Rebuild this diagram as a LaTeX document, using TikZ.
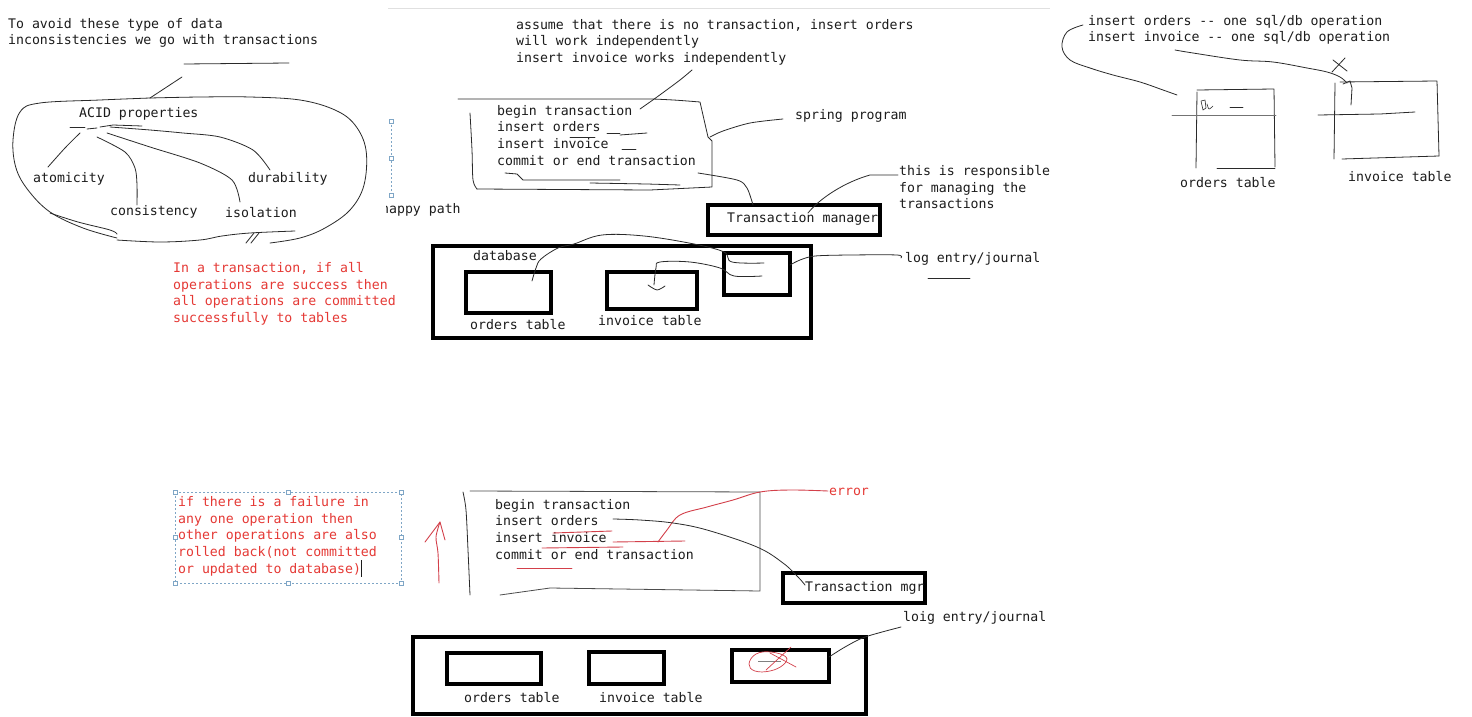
\documentclass[tikz,border=0pt]{standalone}
\usepackage{fontspec}
\newfontfamily\monoface{DejaVu Sans Mono}
\definecolor{ink}{HTML}{1C1C1C}
\definecolor{notered}{HTML}{E53935}
\definecolor{penred}{HTML}{D3404A}
\definecolor{selblue}{HTML}{7FA6C6}
\definecolor{pencil}{HTML}{2A2A2A}
\begin{document}
\begin{tikzpicture}[x=1pt,y=-1pt,
  txt/.style={font=\monoface\fontsize{13.2}{16.7}\selectfont, align=left, anchor=north west, inner sep=0pt, text=ink},
  redtxt/.style={txt, text=notered},
  hand/.style={draw=pencil, line width=0.8pt, line cap=round, line join=round},
  redhand/.style={draw=penred, line width=0.9pt, line cap=round, line join=round},
  heavybox/.style={draw=black, line width=3.5pt, anchor=north west, inner sep=0pt, outer sep=0pt},
  handle/.style={draw=selblue, fill=white, line width=0.6pt, minimum size=4pt, inner sep=0pt},
  selection/.style={draw=selblue, line width=0.8pt, dash pattern=on 2pt off 2pt}
]
\useasboundingbox[fill=white] (0,0) rectangle (1472,717);
\draw[black!12, line width=0.8pt] (388,8) -- (1050,8);

% ---------- ACID properties ----------
\node[txt] (intro) at (8,18) {To avoid these type of data\\inconsistencies we go with transactions};
\node[txt] (acid) at (79,107) {ACID properties};
\node[txt] (atom) at (33,172) {atomicity};
\node[txt] (cons) at (110,205) {consistency};
\node[txt] (isol) at (225,207) {isolation};
\node[txt] (dura) at (248,172) {durability};

\draw[hand] (184,64) -- (289,63);
\draw[hand] (182,77) -- (150,98);
% loop round the four properties
\draw[hand] plot[smooth, tension=0.6] coordinates {(150,98) (100,100) (40,103) (20,112) (13,140) (16,168) (28,190) (50,212) (83,228) (117,238)};
\draw[hand] plot[smooth, tension=0.6] coordinates {(50,213) (78,222) (110,230) (117,234)};
\draw[hand] plot[smooth, tension=0.6] coordinates {(117,240) (160,242) (200,240) (222,236) (250,233) (295,231)};
\draw[hand] plot[smooth, tension=0.6] coordinates {(150,98) (200,97) (250,97) (300,100) (335,110) (355,125) (366,150) (364,185) (350,210) (325,228) (300,238) (270,243)};
\draw[hand] (246,243) -- (254,233);
\draw[hand] (251,243) -- (259,233);
% underline strokes and branches
\draw[hand] (70,127) -- (85,127);
\draw[hand] (87,129) -- (97,128);
\draw[hand] (100,127) -- (113,125) -- (142,126);
\draw[hand] plot[smooth] coordinates {(80,133) (65,148) (48,167)};
\draw[hand] plot[smooth] coordinates {(97,137) (125,152) (135,168) (137,185) (137,205)};
\draw[hand] plot[smooth] coordinates {(107,133) (150,147) (200,163) (232,180) (240,202)};
\draw[hand] plot[smooth] coordinates {(110,127) (150,130) (183,133) (220,137) (253,150) (270,170)};

% ---------- happy path ----------
\node[txt] (assume) at (516,19) {assume that there is no transaction, insert orders\\will work independently\\insert invoice works independently};
\draw[selection] (391,121) -- (391,195);
\node[handle] (h1) at (391,121) {};
\node[handle] (h2) at (391,158) {};
\node[handle] (h3) at (391,195) {};
\begin{scope}
  \clip (386,195) rectangle (480,225);
  \node[txt] (happy) at (381,203) {happy path};
\end{scope}

\node[txt] (prog) at (497,105) {begin transaction\\insert orders\\insert invoice\\commit or end transaction};
% hand-drawn program frame
\draw[hand] (458,99) -- (653,99) .. controls (675,100) .. (700,102) -- (708,137) -- (712,141) -- (712,187) -- (650,190) -- (477,189);
\draw[hand] plot[smooth] coordinates {(470,113) (472,150) (473,180) (477,189)};
\draw[hand] (607,133) -- (620,133);
\draw[hand] (620,135) -- (647,133);
\draw[hand] (570,137) -- (595,137);
\draw[hand] (622,149) -- (636,149);
\draw[hand] (505,173) -- (517,174) -- (523,180) -- (620,180);
\draw[hand] (590,183) -- (647,184) -- (680,185);
\draw[hand] plot[smooth] coordinates {(640,109) (657,97) (680,80) (692,70)};

\node[txt] (spring) at (795,109) {spring program};
\draw[hand] plot[smooth] coordinates {(710,137) (723,131) (750,123) (783,119)};

\node[heavybox, minimum width=172pt, minimum height=30pt] (tm) at (708,205) {};
\node[txt] (tmtext) at (727,212) {Transaction manager};
\draw[hand] plot[smooth] coordinates {(698,173) (737,180) (747,188) (753,205)};
\node[txt] (resp) at (899,165) {this is responsible\\for managing the\\transactions};
\draw[hand] (898,175) -- (870,175) .. controls (845,182) and (820,198) .. (808,213);

% database with its tables
\node[heavybox, minimum width=378pt, minimum height=92pt] (db) at (433,246) {};
\node[heavybox, minimum width=85pt, minimum height=41pt] (ordbox) at (466,272) {};
\node[heavybox, minimum width=90pt, minimum height=37pt] (invbox) at (607,272) {};
\node[heavybox, minimum width=66pt, minimum height=42pt] (logbox) at (724,253) {};
\node[txt] (dbname) at (473,250) {database};
\node[txt] (ordname) at (470,319) {orders table};
\node[txt] (invname) at (598,315) {invoice table};
\draw[hand] plot[smooth, tension=0.6] coordinates {(532,281) (536,268) (541,259) (558,248) (574,244) (602,235) (644,236) (694,244) (724,252) (732,262) (764,263)};
\draw[hand] plot[smooth] coordinates {(648,285) (657,290) (665,286)};
\draw[hand] plot[smooth, tension=0.6] coordinates {(654,285) (656,268) (660,262) (690,262) (720,268) (734,276) (762,276)};
\draw[hand] plot[smooth] coordinates {(790,265) (800,260) (815,256) (850,255) (897,255) (901,258)};
\node[txt] (logname) at (905,252) {log entry/journal};
\draw[hand] (928,278) -- (970,278);

\node[redtxt] (success) at (173,262) {In a transaction, if all\\operations are success then\\all operations are committed\\successfully to tables};

% ---------- two separate statements ----------
\node[txt] (sep) at (1088,15) {insert orders -- one sql/db operation\\insert invoice -- one sql/db operation};
\draw[hand] plot[smooth, tension=0.6] coordinates {(1083,25) (1067,32) (1062,47) (1070,60) (1090,68) (1113,75) (1140,82) (1163,90) (1177,95)};
\draw[hand] plot[smooth, tension=0.6] coordinates {(1175,50) (1193,53) (1240,60) (1273,62) (1307,68) (1327,72) (1340,77) (1347,83)};
\draw[hand] (1332,72) -- (1345,58);
\draw[hand] (1333,60) -- (1347,71);
\draw[hand] (1343,84) -- (1350,81) -- (1352,88) -- (1351,105);
% orders table sketch
\draw[hand] (1197,92) -- (1196,168);
\draw[hand] (1197,90) -- (1274,89) -- (1275,167);
\draw[hand] (1217,168) -- (1275,168);
\draw[hand, black!55] (1172,115) -- (1276,115);
\draw[hand, line width=0.6pt] (1203,110) -- (1201,101) -- (1205,100) -- (1206,108) -- cycle;
\draw[hand, line width=0.6pt] plot[smooth] coordinates {(1207,104) (1209,109) (1213,106)};
\draw[hand] (1230,107) -- (1243,107);
\node[txt] (ordtab) at (1180,177) {orders table};
% invoice table sketch
\draw[hand] (1335,83) -- (1334,159);
\draw[hand] (1340,82) -- (1437,81) -- (1439,156);
\draw[hand] (1342,159) -- (1439,156);
\draw[hand] (1318,115) -- (1380,114) -- (1415,112);
\node[txt] (invtab) at (1348,171) {invoice table};

% ---------- failure path ----------
\draw[selection] (175,492) rectangle (401,583);
\foreach \hx/\hy [count=\hn] in {175/492,288/492,401/492,175/537,401/537,175/583,288/583,401/583}
  \node[handle] (sh\hn) at (\hx,\hy) {};
\node[redtxt] (fail) at (178,496) {if there is a failure in\\any one operation then\\other operations are also\\rolled back(not committed\\or updated to database)};
\draw[ink, line width=0.8pt] (361,560) -- (361,577);
\draw[redhand] plot[smooth] coordinates {(439,583) (438,553) (436,537) (440,522)};
\draw[redhand] (425,542) -- (440,522) -- (445,540);

\node[txt] (prog2) at (495,499) {begin transaction\\insert orders\\insert invoice\\commit or end transaction};
\draw[hand] plot[smooth] coordinates {(463,492) (466,510) (468,550) (470,595)};
\draw[hand, black!70] (470,491) -- (760,492) -- (760,591) -- (550,588) -- (500,595);
\draw[redhand] (553,533) -- (612,531);
\draw[redhand] (613,542) -- (685,541);
\draw[redhand] (542,548) -- (623,547);
\draw[redhand] (517,568) -- (572,568);
\draw[redhand] plot[smooth, tension=0.6] coordinates {(658,542) (667,530) (680,515) (707,507) (733,500) (760,492) (790,490) (828,491)};
\node[redtxt] (err) at (829,488) {error};

\node[heavybox, minimum width=142pt, minimum height=30pt] (tm2) at (783,573) {};
\node[txt] (tm2text) at (805,581) {Transaction mgr};
\draw[hand] plot[smooth, tension=0.6] coordinates {(613,519) (640,520) (673,523) (707,530) (757,547) (783,563) (798,577) (805,585)};

\node[txt] (logname2) at (903,611) {loig entry/journal};
\node[heavybox, minimum width=453pt, minimum height=77pt] (db2) at (413,637) {};
\node[heavybox, minimum width=94pt, minimum height=31pt] (ordbox2) at (447,653) {};
\node[heavybox, minimum width=75pt, minimum height=32pt] (invbox2) at (589,652) {};
\node[heavybox, minimum width=97pt, minimum height=32pt] (logbox2) at (732,650) {};
\node[txt] (ordname2) at (464,692) {orders table};
\node[txt] (invname2) at (599,692) {invoice table};
\draw[hand] plot[smooth] coordinates {(829,657) (845,647) (865,637) (901,627)};
\draw[black!50, line width=1pt] (758,661) -- (781,661);
\draw[redhand, line width=0.7pt] plot[smooth cycle, tension=0.7] coordinates {(771,652) (756,654) (749,664) (755,671) (770,671) (783,665) (786,657)};
\draw[redhand, line width=0.7pt] (766,670) -- (791,647);
\draw[redhand, line width=0.7pt] (770,653) -- (796,667);
\end{tikzpicture}
\end{document}
